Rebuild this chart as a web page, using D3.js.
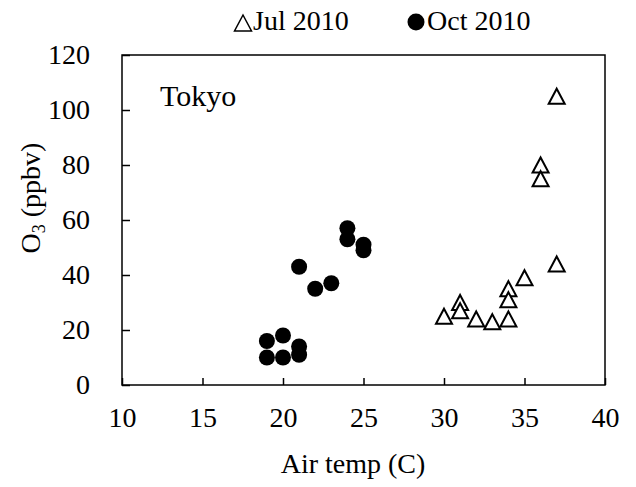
<!DOCTYPE html>
<html>
<head>
<meta charset="utf-8">
<script src="https://cdn.jsdelivr.net/npm/d3@7"></script>
<style>
  body { margin: 0; background: #fff; }
  text { font-family: "Liberation Serif", "Times New Roman", serif; fill: #000; }
</style>
</head>
<body>
<div id="chart"></div>
<script>
// Jul 2010 (open triangles)
const julTemp = [37, 36, 36, 37, 35, 34, 34, 34, 33, 32, 31, 31, 30];
const julO3   = [105, 80, 75, 44, 39, 35, 31, 24, 23, 24, 30, 27, 25];
// Oct 2010 (filled circles)
const octTemp = [19, 19, 20, 20, 21, 21, 21, 22, 23, 24, 24, 25, 25];
const octO3   = [16, 10, 18, 10, 14, 11, 43, 35, 37, 57, 53, 51, 49];

const xTicks = [10, 15, 20, 25, 30, 35, 40];
const yTicks = [0, 20, 40, 60, 80, 100, 120];

const width = 636, height = 487;
const plotL = 122, plotR = 605, plotT = 55, plotB = 385;

const svg = d3.select("#chart")
    .append("svg")
    .attr("width", width)
    .attr("height", height);

const x = d3.scaleLinear().domain([10, 40]).range([plotL, plotR]);
const y = d3.scaleLinear().domain([0, 120]).range([plotB, plotT]);

// x axis, ticks pointing inward
const xAxis = svg.append("g")
    .attr("transform", `translate(0,${plotB})`)
    .call(d3.axisBottom(x).tickValues(xTicks).tickSizeInner(-7).tickSizeOuter(0).tickPadding(22))
    .attr("font-family", null)
    .attr("font-size", 28);
xAxis.select(".domain").remove();
xAxis.selectAll("line").attr("stroke", "#000").attr("stroke-width", 1.5);

const yAxis = svg.append("g")
    .attr("transform", `translate(${plotL},0)`)
    .call(d3.axisLeft(y).tickValues(yTicks).tickSizeInner(-8).tickSizeOuter(0).tickPadding(32))
    .attr("font-family", null)
    .attr("font-size", 28);
yAxis.select(".domain").remove();
yAxis.selectAll("line").attr("stroke", "#000").attr("stroke-width", 1.5);

// plot frame
svg.append("rect")
    .attr("x", plotL)
    .attr("y", plotT)
    .attr("width", plotR - plotL)
    .attr("height", plotB - plotT)
    .attr("fill", "none")
    .attr("stroke", "#000")
    .attr("stroke-width", 1.5);

// axis titles
svg.append("text")
    .attr("x", 353)
    .attr("y", 473)
    .attr("text-anchor", "middle")
    .attr("font-size", 28)
    .text("Air temp (C)");

const yLabel = svg.append("text")
    .attr("transform", "translate(40,198) rotate(-90)")
    .attr("text-anchor", "middle")
    .attr("font-size", 28);
yLabel.append("tspan").text("O");
yLabel.append("tspan").attr("font-size", 18).attr("dy", 5).text("3");
yLabel.append("tspan").attr("dy", -5).text(" (ppbv)");

svg.append("text")
    .attr("x", 160)
    .attr("y", 106)
    .attr("font-size", 30)
    .text("Tokyo");

// triangle marker shape, roughly 16 wide and 15 tall, centred on its box
const tri = {
    draw(ctx, s) {
        const w = s, h = s * 0.94;
        ctx.moveTo(0, -h / 2);
        ctx.lineTo(w / 2, h / 2);
        ctx.lineTo(-w / 2, h / 2);
        ctx.closePath();
    }
};
const triPath = d3.symbol().type(tri).size(16);

const julData = julTemp.map((t, i) => ({ t: t, o: julO3[i] }));
const octData = octTemp.map((t, i) => ({ t: t, o: octO3[i] }));

svg.selectAll(".oct")
    .data(octData)
    .enter().append("circle")
    .attr("class", "oct")
    .attr("cx", d => x(d.t))
    .attr("cy", d => y(d.o))
    .attr("r", 8)
    .attr("fill", "#000");

svg.selectAll(".jul")
    .data(julData)
    .enter().append("path")
    .attr("class", "jul")
    .attr("d", triPath)
    .attr("transform", d => `translate(${x(d.t)},${y(d.o)})`)
    .attr("fill", "#fff")
    .attr("stroke", "#000")
    .attr("stroke-width", 2);

// legend
svg.append("path")
    .attr("d", d3.symbol().type(tri).size(17))
    .attr("transform", "translate(243,23)")
    .attr("fill", "#fff")
    .attr("stroke", "#000")
    .attr("stroke-width", 1.5);
svg.append("text")
    .attr("x", 253)
    .attr("y", 30)
    .attr("font-size", 28)
    .text("Jul 2010");

svg.append("circle")
    .attr("cx", 416)
    .attr("cy", 22)
    .attr("r", 8.5)
    .attr("fill", "#000");
svg.append("text")
    .attr("x", 427)
    .attr("y", 30)
    .attr("font-size", 28)
    .text("Oct 2010");
</script>
</body>
</html>
